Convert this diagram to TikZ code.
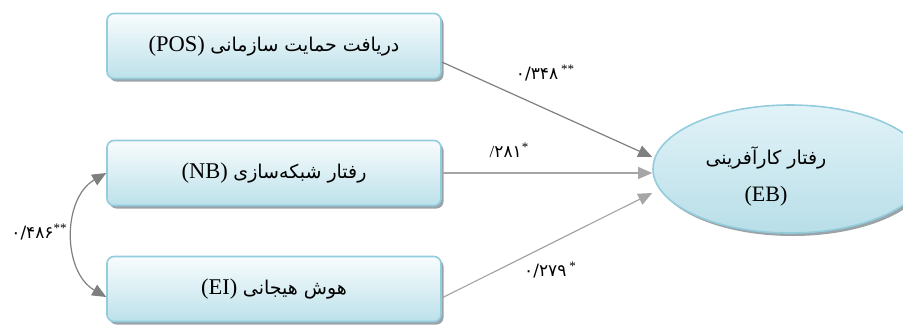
\documentclass[tikz,border=0pt]{standalone}
\usepackage{fontspec}
\setmainfont{Liberation Serif}
\newfontfamily\arabicfont[Script=Arabic]{DejaVu Sans}
\TeXXeTstate=1
\usetikzlibrary{shadows,arrows.meta,calc,shapes.geometric}
\definecolor{boxborder}{HTML}{93CDDD}
\definecolor{boxbottom}{HTML}{BCE1EA}
\definecolor{boxtop}{HTML}{F8FCFD}
\definecolor{elltop}{HTML}{E2F3F8}
\definecolor{ellbottom}{HTML}{B8DEE8}
\definecolor{arrdark}{HTML}{7F7F7F}
\definecolor{arrlight}{HTML}{A6A6A6}
\definecolor{shad}{HTML}{9AA3A8}
\newcommand{\arb}{\arabicfont\fontsize{19}{22}\selectfont}
\newcommand{\stars}[1]{\raisebox{6pt}{\fontsize{13}{14}\selectfont #1}}
\begin{document}
\begin{tikzpicture}[x=1pt,y=-1pt,
  varbox/.style={draw=boxborder, line width=1.6pt, rounded corners=7pt,
    top color=boxtop, bottom color=boxbottom,
    minimum width=334pt, minimum height=65pt,
    drop shadow={shadow xshift=2.5pt, shadow yshift=-3pt, fill=shad, opacity=1},
    font=\fontsize{22.5}{26}\selectfont},
  latentell/.style={ellipse, draw=boxborder, line width=1.6pt,
    top color=elltop, bottom color=ellbottom,
    minimum width=274pt, minimum height=128pt,
    drop shadow={shadow xshift=2.5pt, shadow yshift=-3pt, fill=shad, opacity=1}},
  pathdark/.style={draw=arrdark, line width=1.2pt, -{Triangle[length=14pt,width=12pt]}},
  pathlight/.style={draw=arrlight, line width=1.2pt, -{Triangle[length=14pt,width=12pt]}},
  corrarrow/.style={draw=arrdark, line width=1.2pt, {Triangle[length=14pt,width=12pt]}-{Triangle[length=14pt,width=12pt]}},
  coef/.style={font=\fontsize{17}{20}\selectfont, inner sep=0pt}
]
\useasboundingbox (0,0) rectangle (903,327);
\clip (0,0) rectangle (903,327);

\node[varbox] (pos) at (274,46) {(POS) {\arb\beginR دریافت حمایت سازمانی\endR}};
\node[varbox] (nb) at (274,173) {(NB) {\arb\beginR رفتار شبکه‌سازی\endR}};
\node[varbox] (ei) at (274,289) {(EI) {\arb\beginR هوش هیجانی\endR}};

\node[latentell] (eb) at (790,169) {};
\node[align=center, font=\fontsize{22}{37}\selectfont] (ebtext) at (766,176)
  {{\arb\beginR رفتار کارآفرینی\endR}\\(EB)};

\draw[pathdark] ($(pos.east)+(0,16)$) -- ($(eb.west)+(0,-12)$);
\draw[pathlight] (nb.east) -- ($(eb.west)+(0,4)$);
\draw[pathlight] ($(ei.east)+(0,9)$) -- ($(eb.west)+(0,24)$);

\draw[corrarrow] (nb.west) to[bend right=60, looseness=1.05] ($(ei.west)+(0,8)$);

\node[coef] (c1) at (545,73) {{\arabicfont ۰/۳۴۸}\,\stars{**}};
\node[coef] (c2) at (509,150) {/{\arabicfont ۲۸۱}\stars{*}};
\node[coef] (c3) at (550,270) {{\arabicfont ۰/۲۷۹}\,\stars{*}};
\node[coef] (c4) at (39,232) {{\arabicfont ۰/۴۸۶}\stars{**}};
\end{tikzpicture}
\end{document}
